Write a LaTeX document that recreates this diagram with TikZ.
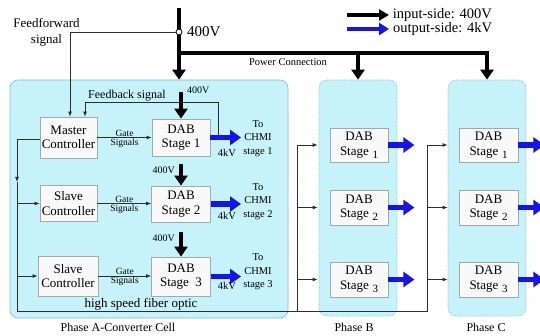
\documentclass[tikz,border=0pt]{standalone}
\usepackage{fontspec}
\setmainfont{Liberation Serif}
\usetikzlibrary{arrows.meta}
\definecolor{cellfill}{RGB}{198,242,250}
\definecolor{cellline}{RGB}{140,185,205}
\definecolor{boxfill}{RGB}{249,249,249}
\definecolor{boxline}{RGB}{160,170,172}
\definecolor{outblue}{RGB}{20,20,235}
\definecolor{sigcol}{RGB}{45,45,45}
\tikzset{
  phaseA/.style={draw=cellline, fill=cellfill, line width=0.6pt, rounded corners=8pt, inner sep=0},
  phaseBC/.style={draw=cellline, fill=cellfill, line width=0.7pt, densely dotted, rounded corners=8pt, inner sep=0},
  blk/.style={draw=boxline, fill=boxfill, line width=0.8pt, inner sep=0, align=center, font=\fontsize{13}{14.5}\selectfont},
  pw/.style={line width=3.5pt, -{Triangle[width=13pt,length=10pt]}},
  pline/.style={line width=3.5pt},
  bw/.style={line width=5.5pt, draw=outblue, -{Triangle[width=15pt,length=11pt]}},
  sig/.style={line width=0.8pt, draw=sigcol, -{Latex[length=5pt,width=4pt]}},
  sigl/.style={line width=0.8pt, draw=sigcol},
  small/.style={font=\fontsize{9.5}{10}\selectfont, inner sep=1pt},
  volt/.style={font=\fontsize{10}{11}\selectfont, inner sep=1pt},
  lbl/.style={font=\fontsize{10.5}{13.5}\selectfont, align=center, inner sep=0},
}
\begin{document}
\begin{tikzpicture}[x=1pt,y=-1pt]
\useasboundingbox (0,0) rectangle (540,336);

% phase cells
\node[phaseA, minimum width=278pt, minimum height=238pt] (pa) at (149,199) {};
\node[phaseBC, minimum width=78pt, minimum height=236pt] (pb) at (358,198) {};
\node[phaseBC, minimum width=78pt, minimum height=236pt] (pc) at (487,198) {};
\node[font=\fontsize{12}{14}\selectfont] (la) at (118,327) {Phase A-Converter Cell};
\node[font=\fontsize{12}{14}\selectfont] (lb) at (354,327) {Phase B};
\node[font=\fontsize{12}{14}\selectfont] (lc) at (486,327) {Phase C};

% blocks phase A
\node[blk, minimum width=57pt, minimum height=41pt] (mc) at (68.5,137.5) {Master\\Controller};
\node[blk, minimum width=57pt, minimum height=36pt] (sc1) at (68.5,203.5) {Slave\\Controller};
\node[blk, minimum width=60pt, minimum height=40pt] (sc2) at (68,276) {Slave\\Controller};
\node[blk, minimum width=58pt, minimum height=37pt] (a1) at (181,137.5) {DAB\\Stage 1};
\node[blk, minimum width=59pt, minimum height=36pt] (a2) at (181,204) {DAB\\Stage 2};
\node[blk, minimum width=59pt, minimum height=39pt] (a3) at (181,276.5) {DAB\\Stage\enspace3};

% blocks phase B, C
\node[blk, minimum width=58pt, minimum height=34pt] (b1) at (359,145) {DAB\\Stage\;\raisebox{-3pt}{\fontsize{11}{12}\selectfont 1}};
\node[blk, minimum width=58pt, minimum height=35pt] (b2) at (359,207.5) {DAB\\Stage\;\raisebox{-3pt}{\fontsize{11}{12}\selectfont 2}};
\node[blk, minimum width=58pt, minimum height=35pt] (b3) at (359,279.5) {DAB\\Stage\;\raisebox{-3pt}{\fontsize{11}{12}\selectfont 3}};
\node[blk, minimum width=59pt, minimum height=34pt] (c1) at (488.5,145) {DAB\\Stage\;\raisebox{-3pt}{\fontsize{11}{12}\selectfont 1}};
\node[blk, minimum width=59pt, minimum height=35pt] (c2) at (488.5,207.5) {DAB\\Stage\;\raisebox{-3pt}{\fontsize{11}{12}\selectfont 2}};
\node[blk, minimum width=59pt, minimum height=35pt] (c3) at (488.5,279.5) {DAB\\Stage\;\raisebox{-3pt}{\fontsize{11}{12}\selectfont 3}};

% power connection
\coordinate (top) at (179,8);
\coordinate (pj) at (179,53);
\draw[pline] (pj) -- (pj -| pc.north) -- ([yshift=-0.1pt]pj -| pc.north);
\draw[pw] ([yshift=1.75pt]pj -| pc.north) -- (pc.north);
\draw[pw] (pj -| pb.north) -- (pb.north);
\draw[pw] (top) -- (pa.north -| top);
\node[draw=black, fill=white, circle, inner sep=0, minimum size=6pt, line width=0.8pt] (jn) at (179,32) {};
\node[anchor=west, font=\fontsize{15}{17}\selectfont, inner sep=0] (v400) at (187,32) {400V};
\node[font=\fontsize{10.5}{12}\selectfont] (pcn) at (288,62) {Power Connection};
\node[font=\fontsize{13}{16}\selectfont, align=center] (ffl) at (46.5,32) {Feedforward\\signal};

% feedforward & feedback
\draw[sig] (jn.west) -| ([xshift=1.5pt]mc.north);
\coordinate (fb) at (218,137.5);
\draw[sig] (fb) -- (218,102) -| ([xshift=16.5pt]mc.north);
\node[font=\fontsize{12}{14}\selectfont] (fbl) at (127,96) {Feedback signal};

% 400V into DAB stages
\draw[pw] (181,92) -- (a1.north);
\node[volt, anchor=west] (v1) at (186,90) {400V};
\draw[pw] (181,164) -- (a2.north);
\node[volt, anchor=east] (v2) at (176,170) {400V};
\draw[pw] (181,232) -- (a3.north);
\node[volt, anchor=east] (v3) at (176,238) {400V};

% gate signals
\draw[sig] (mc.east) -- (mc.east -| a1.west) node[midway, above, small] {Gate} node[midway, below, small] {Signals};
\draw[sig] (sc1.east) -- (sc1.east -| a2.west) node[midway, above, small] {Gate} node[midway, below, small] {Signals};
\draw[sig] (sc2.east) -- (sc2.east -| a3.west) node[midway, above, small] {Gate} node[midway, below, small] {Signals};

% outputs phase A
\coordinate (o1) at (241,137.5);
\coordinate (o2) at (241,204);
\coordinate (o3) at (241,276.5);
\draw[bw] (a1.east) -- (o1);
\draw[bw] (a2.east) -- (o2);
\draw[bw] (a3.east) -- (o3);
\node[font=\fontsize{10.5}{12}\selectfont] (k1) at (227,153) {4kV};
\node[font=\fontsize{10.5}{12}\selectfont] (k2) at (227,216) {4kV};
\node[font=\fontsize{10.5}{12}\selectfont] (k3) at (227,286) {4kV};
\node[lbl] (t1) at (258,138.5) {To\\CHMI\\stage 1};
\node[lbl] (t2) at (258,201.5) {To\\CHMI\\stage 2};
\node[lbl] (t3) at (258,272) {To\\CHMI\\stage 3};

% outputs phase B, C
\draw[bw] (b1.east) -- ++(26,0);
\draw[bw] (b2.east) -- ++(26,0);
\draw[bw] (b3.east) -- ++(26,0);
\draw[bw] (c1.east) -- ++(26,0);
\draw[bw] (c2.east) -- ++(26,0);
\draw[bw] (c3.east) -- ++(26,0);

% fiber optic
\coordinate (fx) at (17,311);
\coordinate (bx) at (297,311);
\coordinate (cx) at (427,311);
\coordinate (fm) at (17,182);
\draw[sig] ([yshift=-1.5pt]mc.west) -- ([yshift=-1.5pt]mc.west -| fx) -- (fm);
\draw[sigl] (fm) -- (fx) -- (cx) -- (cx |- c1.west);
\draw[sigl] (bx) -- (bx |- b1.west);
\draw[sig] (sc1.west -| fx) -- (sc1.west);
\draw[sig] (sc2.west -| fx) -- (sc2.west);
\draw[sig] (bx |- b1.west) -- ([xshift=-12pt]b1.west);
\draw[sig] (bx |- b2.west) -- ([xshift=-12pt]b2.west);
\draw[sig] (bx |- b3.west) -- ([xshift=-12pt]b3.west);
\draw[sig] (cx |- c1.west) -- ([xshift=-11pt]c1.west);
\draw[sig] (cx |- c2.west) -- ([xshift=-11pt]c2.west);
\draw[sig] (cx |- c3.west) -- ([xshift=-11pt]c3.west);
\node[font=\fontsize{13}{15}\selectfont] (fo) at (141,304) {high speed fiber optic};

% legend
\coordinate (lg1) at (347,15);
\coordinate (lg2) at (347,29);
\draw[line width=3.5pt, -{Triangle[width=11pt,length=10pt]}] (lg1) -- ++(42,0) node[right, inner sep=2pt, font=\fontsize{14.5}{16}\selectfont] (li) {input-side: 400V};
\draw[line width=4pt, draw=outblue, -{Triangle[width=12pt,length=10pt]}] (lg2) -- ++(42,0) node[right, inner sep=2pt, font=\fontsize{14.5}{16}\selectfont, text=black] (lo) {output-side: 4kV};
\end{tikzpicture}
\end{document}
